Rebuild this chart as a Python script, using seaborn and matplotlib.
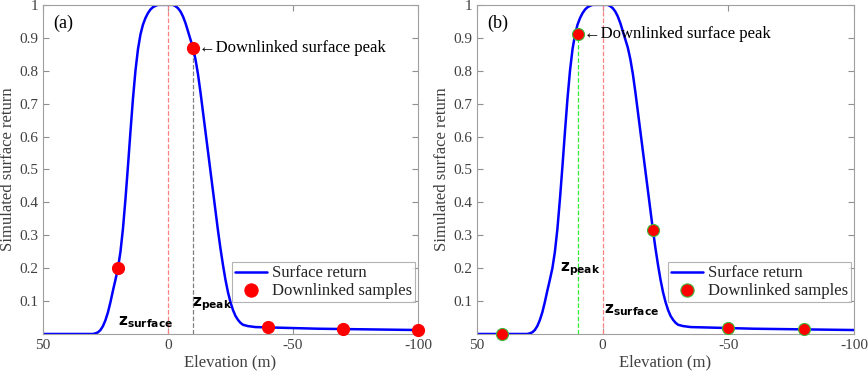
import numpy as np
import pandas as pd
import seaborn as sns
import matplotlib.pyplot as plt

# simulated surface return
elev = [50, 40, 30, 29, 28, 27, 26, 25, 24, 23, 22, 21, 20, 19, 18, 17, 16, 15, 14, 13, 12, 11,
        10, 9, 8, 7, 6, 5, 4, 2, 0, -2, -3, -4, -5, -6, -7, -8, -9, -10, -11, -12, -13, -14,
        -15, -16, -17, -18, -19, -20, -21, -22, -23, -24, -25, -26, -27, -28, -29, -30, -32,
        -35, -40, -50, -60, -70, -80, -90, -100]
ret = [0, 0, 0, 0.002, 0.005, 0.012, 0.024, 0.042, 0.066, 0.097, 0.132, 0.165, 0.20, 0.25, 0.32,
       0.41, 0.51, 0.615, 0.715, 0.80, 0.865, 0.91, 0.94, 0.96, 0.975, 0.986, 0.993, 0.997, 1.0,
       1.0, 1.0, 1.0, 0.996, 0.99, 0.98, 0.965, 0.945, 0.92, 0.895, 0.87, 0.835, 0.79, 0.735,
       0.675, 0.615, 0.555, 0.495, 0.435, 0.375, 0.315, 0.26, 0.21, 0.165, 0.127, 0.097, 0.073,
       0.055, 0.043, 0.034, 0.028, 0.024, 0.021, 0.02, 0.018, 0.016, 0.015, 0.014, 0.013, 0.012]

# downlinked samples
samp_a_x = [20, -10, -40, -70, -100]
samp_a_y = [0.20, 0.87, 0.02, 0.015, 0.012]
samp_b_x = [40, 10, -20, -50, -80]
samp_b_y = [0.0, 0.91, 0.315, 0.018, 0.014]

curve = pd.DataFrame({'elev': elev, 'ret': ret})

sns.set_style('ticks')
plt.rcParams['font.family'] = ['Liberation Serif', 'DejaVu Serif']
gray_txt = '#404040'

fig = plt.figure(figsize=(8.68, 3.74), dpi=100)
ax_a = fig.add_axes([0.0495, 0.107, 0.432, 0.880])
ax_b = fig.add_axes([0.5495, 0.107, 0.4345, 0.880])


def draw_panel(ax, sx, sy, edge, tag):
    sns.lineplot(data=curve, x='elev', y='ret', ax=ax, color='#0000ff', lw=1.8,
                 label='Surface return', sort=False)
    sns.scatterplot(x=sx, y=sy, ax=ax, color='red', s=75, edgecolor=edge, linewidth=0.8,
                    label='Downlinked samples', zorder=5, clip_on=False)
    ax.set_xlim(50, -100)
    ax.set_ylim(0, 1)
    ax.set_xticks([50, 0, -50, -100])
    ax.set_xticklabels(['50', '0', '-50', '-100'])
    ax.set_yticks([0.1, 0.2, 0.3, 0.4, 0.5, 0.6, 0.7, 0.8, 0.9, 1])
    ax.set_yticklabels(['0.1', '0.2', '0.3', '0.4', '0.5', '0.6', '0.7', '0.8', '0.9', '1'])
    ax.tick_params(direction='in', length=4, color='#909090', labelcolor=gray_txt,
                   labelsize=11, top=True, right=True)
    for sp in ax.spines.values():
        sp.set_color('#a0a0a0')
        sp.set_linewidth(0.8)
    ax.set_xlabel('Elevation (m)', fontsize=12, color=gray_txt, labelpad=2)
    ax.set_ylabel('Simulated surface return', fontsize=12, color=gray_txt, labelpad=2)
    ax.text(46, 0.945, tag, fontsize=13, color='black', va='center')
    leg = ax.legend(loc='lower right', bbox_to_anchor=(0.993, 0.097), fontsize=12,
                    frameon=True, fancybox=False, edgecolor='#a0a0a0', handlelength=1.9,
                    borderpad=0.2, labelspacing=0.08, handletextpad=0.3, borderaxespad=0,
                    markerscale=1.1)
    leg.get_frame().set_linewidth(0.8)


draw_panel(ax_a, samp_a_x, samp_a_y, 'red', '(a)')
draw_panel(ax_b, samp_b_x, samp_b_y, '#3cb83c', '(b)')

# reference lines
ax_a.plot([0, 0], [0, 1], ls='--', color='#ff8080', lw=0.9, zorder=1)
ax_a.plot([-10, -10], [0, 0.87], ls='--', color='#808080', lw=0.9, zorder=1)
ax_b.plot([0, 0], [0, 1], ls='--', color='#ff8080', lw=0.9, zorder=1)
ax_b.plot([10, 10], [0, 0.91], ls='--', color='#33ee33', lw=0.9, zorder=1)

zkw = dict(fontsize=11, color='black', family='DejaVu Sans')
ax_a.text(19.8, 0.025, r'$\mathbf{z_{surface}}$', **zkw)
ax_a.text(-9.5, 0.085, r'$\mathbf{z_{peak}}$', **zkw)
ax_b.text(17, 0.19, r'$\mathbf{z_{peak}}$', **zkw)
ax_b.text(-0.5, 0.062, r'$\mathbf{z_{surface}}$', **zkw)

ax_a.text(-12.5, 0.87, '\u2190Downlinked surface peak', fontsize=12, va='center',
          color='black', family=['Liberation Serif', 'DejaVu Sans'])
ax_b.text(7.5, 0.91, '\u2190Downlinked surface peak', fontsize=12, va='center',
          color='black', family=['Liberation Serif', 'DejaVu Sans'])

fig.savefig('out.png', dpi=100)
